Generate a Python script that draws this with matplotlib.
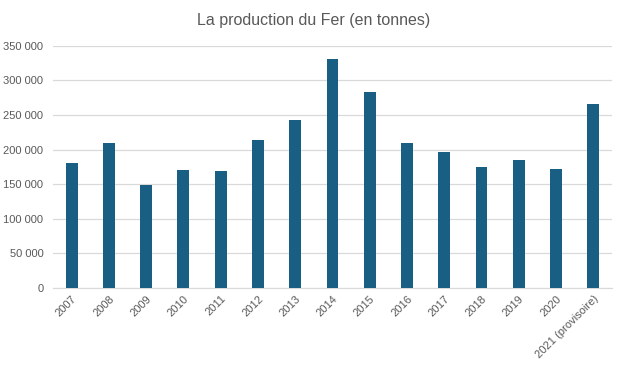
import matplotlib
matplotlib.use('Agg')
from matplotlib import pyplot as plt
from matplotlib.ticker import FuncFormatter

years = ['2007', '2008', '2009', '2010', '2011', '2012', '2013', '2014',
         '2015', '2016', '2017', '2018', '2019', '2020', '2021 (provisoire)']
production = [180000, 210000, 149500, 171000, 168500, 214500, 243500, 331000,
              284000, 210000, 197000, 175500, 185500, 172500, 266500]
yticks = [0, 50000, 100000, 150000, 200000, 250000, 300000, 350000]

plt.rcParams['font.family'] = ['Liberation Sans', 'DejaVu Sans']

fig = plt.figure(figsize=(6.28, 3.73), dpi=100)
ax = fig.add_axes([0.0844, 0.228, 0.890, 0.649])

x = range(len(years))
ax.bar(x, production, width=0.32, color='#195E83', zorder=3)

ax.set_xlim(-0.5, len(years) - 0.5)
ax.set_ylim(0, 350000)
ax.set_yticks(yticks)
ax.yaxis.set_major_formatter(FuncFormatter(lambda v, _: f'{int(v):,}'.replace(',', ' ')))
ax.set_xticks(list(x))
ax.set_xticklabels(years, rotation=45, ha='right', rotation_mode='anchor')

ax.grid(axis='y', color='#d9d9d9', linewidth=0.9, zorder=0)
for side in ['top', 'right', 'left']:
    ax.spines[side].set_visible(False)
ax.spines['bottom'].set_color('#d9d9d9')
ax.tick_params(axis='both', length=0, colors='#595959', labelsize=8)
ax.tick_params(axis='y', pad=7)
ax.tick_params(axis='x', pad=4)

fig.text(0.5, 0.945, 'La production du Fer (en tonnes)', ha='center', va='center',
         fontsize=11.5, color='#595959')

fig.savefig('out.png', dpi=100)
